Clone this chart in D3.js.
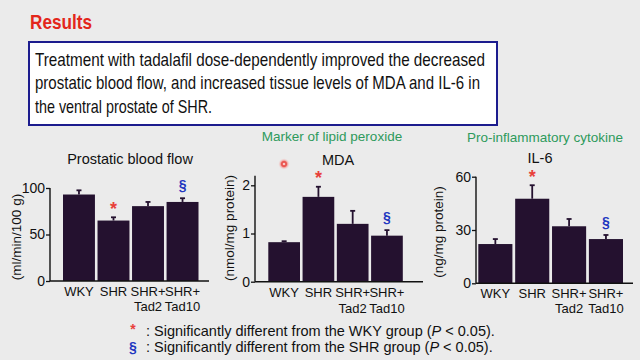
<!DOCTYPE html>
<html><head><meta charset="utf-8">
<script src="https://cdn.jsdelivr.net/npm/d3@7"></script>
<style>
html,body{margin:0;padding:0;background:#ebebeb;}
svg{display:block;font-family:"Liberation Sans",Arial,sans-serif;}
</style>
</head><body>
<svg id="c" width="640" height="360"></svg>
<script>
// ---- data ----
const groups = ["WKY", "SHR", "SHR+Tad2", "SHR+Tad10"];
const groupLine1 = ["WKY", "SHR", "SHR+", "SHR+"];
const groupLine2 = ["", "", "Tad2", "Tad10"];

const flowMean = [93, 65, 80.5, 85];
const flowErr  = [4.5, 3.5, 4.5, 4];
const flowTicks = [0, 50, 100];

const mdaMean = [0.82, 1.76, 1.2, 0.955];
const mdaErr  = [0.02, 0.21, 0.27, 0.115];
const mdaTicks = [0, 1, 2];

const il6Mean = [22.1, 47.6, 32.1, 24.9];
const il6Err  = [2.8, 7.6, 4.1, 2.3];
const il6Ticks = [0, 30, 60];

const starGroups = ["SHR"];       // vs WKY
const sectGroups = ["SHR+Tad10"]; // vs SHR

const headerTitle = "Results";
const bodyLines = [
  "Treatment with tadalafil dose-dependently improved the decreased",
  "prostatic blood flow, and increased tissue levels of MDA and IL-6 in",
  "the ventral prostate of SHR."
];

// ---- layout ----
const svg = d3.select("#c");
const BAR = "#24112f", RED = "#e8403a", BLUE = "#2236c0", GREEN = "#2e9a5c";

svg.append("rect").attr("width",640).attr("height",360).attr("fill","#ebebeb");

svg.append("text").attr("x",30).attr("y",29).attr("fill","#e3261b")
  .attr("font-size",21).attr("font-weight","bold")
  .attr("textLength",62).attr("lengthAdjust","spacingAndGlyphs").text(headerTitle);

svg.append("rect").attr("x",29).attr("y",42).attr("width",468).attr("height",83)
  .attr("fill","#ffffff").attr("stroke","#1c1c8e").attr("stroke-width",2);

const bodyLens = [450, 445, 177];
const bodyBase = [65.5, 89, 112.5];
bodyLines.forEach((t,i)=>{
  svg.append("text").attr("x",35).attr("y",bodyBase[i]).attr("fill","#111")
    .attr("font-size",18.5).attr("textLength",bodyLens[i])
    .attr("lengthAdjust","spacingAndGlyphs").text(t);
});

const panels = [
  {mean:flowMean, err:flowErr, ticks:flowTicks, domain:[0,100], axisTop:100,
   axisX:50, band:[63,198.5], xEnd:209, yR:[281,188],
   title:"Prostatic blood flow", tx:130, ty:164, sub:null,
   ylab:"(ml/min/100 g)", lx:21, ly:237, lab:[295.5,310.5]},
  {mean:mdaMean, err:mdaErr, ticks:mdaTicks, domain:[0,2], axisTop:2.2,
   axisX:255, band:[268.3,402.8], xEnd:423, yR:[281.7,185.3],
   title:"MDA", tx:338, ty:165, sub:"Marker of lipid peroxide", sx:332, sy:141,
   ylab:"(nmol/mg protein)", lx:234, ly:228, lab:[297,312.5]},
  {mean:il6Mean, err:il6Err, ticks:il6Ticks, domain:[0,60], axisTop:60,
   axisX:476, band:[478.3,623], xEnd:633, yR:[283.3,176.7],
   title:"IL-6", tx:540, ty:163, sub:"Pro-inflammatory cytokine", sx:545, sy:142,
   ylab:"(ng/mg protein)", lx:443, ly:232, lab:[297.5,313]}
];

panels.forEach(p=>{
  const g = svg.append("g");
  const x = d3.scaleBand().domain(groups).range(p.band).paddingInner(0.075).paddingOuter(0);
  const y = d3.scaleLinear().domain(p.domain).range(p.yR);

  // bars
  g.selectAll("rect.bar").data(groups).join("rect")
    .attr("x", d=>x(d)).attr("width", x.bandwidth())
    .attr("y", (d,i)=>y(p.mean[i])).attr("height",(d,i)=>y(0)-y(p.mean[i]))
    .attr("fill", BAR);

  // error bars (upper only)
  groups.forEach((d,i)=>{
    const cx = x(d)+x.bandwidth()/2;
    g.append("line").attr("x1",cx).attr("x2",cx)
      .attr("y1",y(p.mean[i])).attr("y2",y(p.mean[i]+p.err[i]))
      .attr("stroke",BAR).attr("stroke-width",1.8);
    g.append("line").attr("x1",cx-2.5).attr("x2",cx+2.5)
      .attr("y1",y(p.mean[i]+p.err[i])).attr("y2",y(p.mean[i]+p.err[i]))
      .attr("stroke",BAR).attr("stroke-width",1.8);
  });

  // y axis
  const yAxis = d3.axisLeft(y).tickValues(p.ticks).tickFormat(d3.format("~g"))
    .tickSize(4).tickPadding(1).tickSizeOuter(0);
  const ga = g.append("g").attr("transform",`translate(${p.axisX},0)`).call(yAxis);
  ga.select(".domain").remove();
  ga.append("line").attr("x1",0).attr("x2",0).attr("y1",y(0)).attr("y2",y(p.axisTop))
    .attr("stroke","#111").attr("stroke-width",1.4);
  ga.selectAll(".tick line").attr("stroke","#111").attr("stroke-width",1.3);
  ga.selectAll(".tick text").attr("font-size",14).attr("fill","#111")
    .attr("font-family",'"Liberation Sans",Arial,sans-serif');

  // x axis line
  g.append("line").attr("x1",p.axisX).attr("x2",p.xEnd).attr("y1",y(0)).attr("y2",y(0))
    .attr("stroke","#111").attr("stroke-width",1.4);

  // x labels
  groups.forEach((d,i)=>{
    const cx = x(d)+x.bandwidth()/2;
    g.append("text").attr("x",cx).attr("y",p.lab[0]).attr("text-anchor","middle")
      .attr("font-size",13).attr("fill","#111").text(groupLine1[i]);
    if (groupLine2[i]) g.append("text").attr("x",cx).attr("y",p.lab[1]).attr("text-anchor","middle")
      .attr("font-size",13).attr("fill","#111").text(groupLine2[i]);
  });

  // titles
  g.append("text").attr("x",p.tx).attr("y",p.ty).attr("text-anchor","middle")
    .attr("font-size",14.5).attr("fill","#111").text(p.title);
  if (p.sub) g.append("text").attr("x",p.sx).attr("y",p.sy).attr("text-anchor","middle")
    .attr("font-size",13.5).attr("fill",GREEN).text(p.sub);

  g.append("text").attr("transform",`translate(${p.lx},${p.ly}) rotate(-90)`)
    .attr("text-anchor","middle").attr("font-size",13.5).attr("fill","#111").text(p.ylab);

  // significance marks
  starGroups.forEach(d=>{
    const i = groups.indexOf(d);
    const c = y(p.mean[i]+p.err[i]) - 13;
    g.append("text").attr("x",x(d)+x.bandwidth()/2).attr("y",c+10.5).attr("text-anchor","middle")
      .attr("font-size",18).attr("font-weight","bold").attr("fill",RED).text("*");
  });
  sectGroups.forEach(d=>{
    const i = groups.indexOf(d);
    const c = y(p.mean[i]+p.err[i]) - 12;
    g.append("text").attr("x",x(d)+x.bandwidth()/2).attr("y",c+4).attr("text-anchor","middle")
      .attr("font-size",14).attr("font-weight","bold").attr("fill",BLUE).text("§");
  });
});

// pointer dot
const defs = svg.append("defs");
const rg = defs.append("radialGradient").attr("id","dot");
rg.append("stop").attr("offset","0%").attr("stop-color","#e8433f");
rg.append("stop").attr("offset","45%").attr("stop-color","#ea5a55");
rg.append("stop").attr("offset","60%").attr("stop-color","#f3a9a6");
rg.append("stop").attr("offset","100%").attr("stop-color","#ebebeb").attr("stop-opacity",0);
svg.append("circle").attr("cx",284).attr("cy",164).attr("r",6).attr("fill","url(#dot)");
svg.append("circle").attr("cx",284).attr("cy",164).attr("r",1.3).attr("fill","#f7c9c7");

// footnotes
svg.append("text").attr("x",133).attr("y",334).attr("text-anchor","middle")
  .attr("font-size",14).attr("font-weight","bold").attr("fill",RED).text("*");
svg.append("text").attr("x",133).attr("y",352).attr("text-anchor","middle")
  .attr("font-size",14).attr("font-weight","bold").attr("fill",BLUE).text("§");
const fn = [["WKY",336],["SHR",351.5]];
fn.forEach(([grp,yy])=>{
  const t = svg.append("text").attr("x",146).attr("y",yy).attr("font-size",14.5).attr("fill","#111");
  t.append("tspan").text(`: Significantly different from the ${grp} group (`);
  t.append("tspan").attr("font-style","italic").text("P");
  t.append("tspan").text(" < 0.05).");
});
</script>
</body></html>
